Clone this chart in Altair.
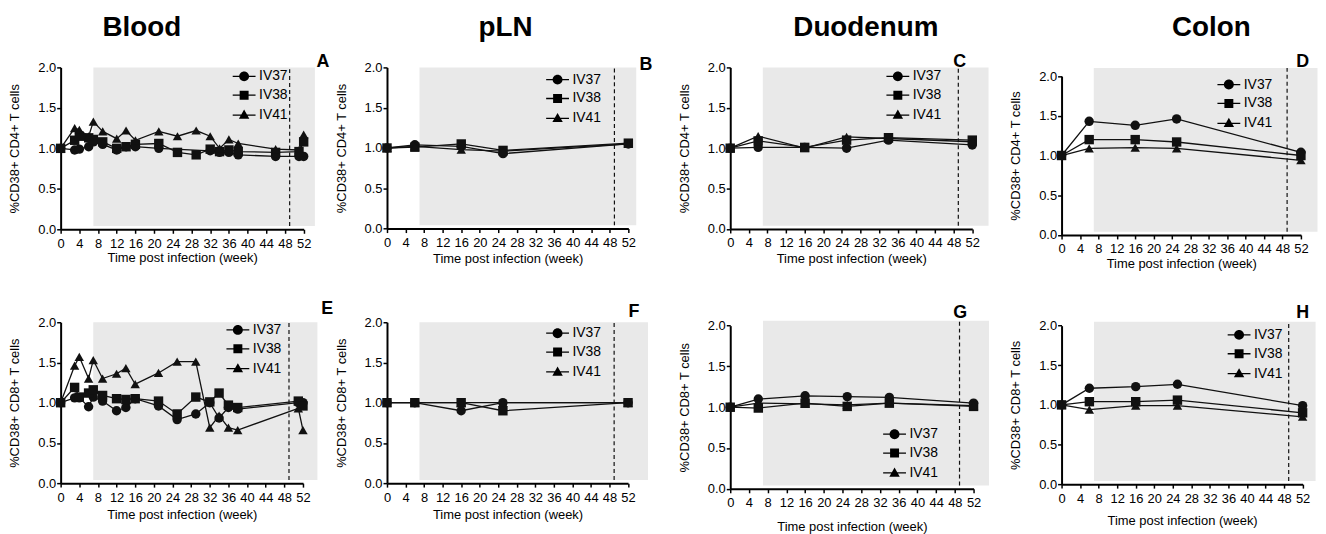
import altair as alt
import pandas as pd

animals = ["IV37", "IV38", "IV41"]

# ---------------- data ----------------
# A: Blood, CD4+
blood_cd4_weeks = [0, 3, 4, 6, 7, 9, 12, 14, 16, 21, 25, 29, 32, 34, 36, 38, 46, 51, 52]
blood_cd4_iv37 = [1.00, 0.98, 0.99, 1.02, 1.08, 1.05, 0.98, 1.02, 1.02, 1.00, None, None, 0.97, 0.95, 0.95, 0.92, 0.90, 0.90, 0.90]
blood_cd4_iv38 = [1.00, 1.10, 1.15, 1.13, 1.11, 1.08, 1.00, 1.02, 1.05, 1.06, 0.95, 0.92, 0.99, 0.96, 0.98, 0.96, 0.95, 0.96, 1.08]
blood_cd4_iv41 = [1.00, 1.25, 1.23, 1.15, 1.33, 1.21, 1.12, 1.22, 1.10, 1.21, 1.15, 1.22, 1.15, 1.00, 1.11, 1.06, 0.99, 0.98, 1.17]

# B: pLN, CD4+
pln_cd4_weeks = [0, 6, 16, 25, 52]
pln_cd4_iv37 = [1.00, 1.04, 1.02, 0.93, 1.05]
pln_cd4_iv38 = [1.00, 1.01, 1.05, 0.97, 1.06]
pln_cd4_iv41 = [1.00, 1.02, 0.98, 0.96, 1.05]

# C: Duodenum, CD4+
duo_cd4_weeks = [0, 6, 16, 25, 34, 52]
duo_cd4_iv37 = [1.00, 1.01, 1.01, 1.00, 1.10, 1.04]
duo_cd4_iv38 = [1.00, 1.09, 1.01, 1.10, 1.13, 1.10]
duo_cd4_iv41 = [1.00, 1.15, 1.00, 1.14, 1.12, 1.08]

# D: Colon, CD4+
col_cd4_weeks = [0, 6, 16, 25, 52]
col_cd4_iv37 = [1.00, 1.43, 1.38, 1.46, 1.04]
col_cd4_iv38 = [1.00, 1.20, 1.20, 1.17, 1.00]
col_cd4_iv41 = [1.00, 1.09, 1.10, 1.09, 0.94]

# E: Blood, CD8+
blood_cd8_weeks = [0, 3, 4, 6, 7, 9, 12, 14, 16, 21, 25, 29, 32, 34, 36, 38, 51, 52]
blood_cd8_iv37 = [1.00, 1.06, 1.06, 0.95, 1.07, 1.02, 0.90, 0.94, 1.05, 0.96, 0.79, 0.86, 1.00, 0.81, 0.94, 0.92, 1.00, 1.00]
blood_cd8_iv38 = [1.00, 1.19, 1.07, 1.12, 1.16, 1.09, 1.05, 1.04, 1.05, 1.02, 0.86, 1.07, 1.01, 1.12, 0.97, 0.94, 1.02, 0.96]
blood_cd8_iv41 = [1.00, 1.46, 1.57, 1.30, 1.53, 1.30, 1.36, 1.43, 1.23, 1.37, 1.51, 1.51, 0.69, 0.84, 0.69, 0.66, 0.93, 0.66]

# F: pLN, CD8+
pln_cd8_weeks = [0, 6, 16, 25, 52]
pln_cd8_iv37 = [1.00, 1.00, 0.90, 1.00, 1.00]
pln_cd8_iv38 = [1.00, 1.00, 1.00, 0.90, 1.00]
pln_cd8_iv41 = [1.00, 1.00, 1.00, 1.00, 1.00]

# G: Duodenum, CD8+
duo_cd8_weeks = [0, 6, 16, 25, 34, 52]
duo_cd8_iv37 = [1.00, 1.10, 1.14, 1.13, 1.12, 1.05]
duo_cd8_iv38 = [1.00, 0.99, 1.05, 1.01, 1.05, 1.01]
duo_cd8_iv41 = [1.00, 1.05, 1.04, 1.03, 1.05, 1.02]

# H: Colon, CD8+
col_cd8_weeks = [0, 6, 16, 25, 52]
col_cd8_iv37 = [1.00, 1.21, 1.23, 1.26, 0.99]
col_cd8_iv38 = [1.00, 1.04, 1.04, 1.06, 0.90]
col_cd8_iv41 = [1.00, 0.94, 0.99, 0.99, 0.85]

x_ticks = list(range(0, 53, 4))
y_ticks = [0.0, 0.5, 1.0, 1.5, 2.0]
shade_start = 7
dash_week = 49
shade_bottom = 0.04

series = {
    "A": (blood_cd4_weeks, blood_cd4_iv37, blood_cd4_iv38, blood_cd4_iv41),
    "B": (pln_cd4_weeks, pln_cd4_iv37, pln_cd4_iv38, pln_cd4_iv41),
    "C": (duo_cd4_weeks, duo_cd4_iv37, duo_cd4_iv38, duo_cd4_iv41),
    "D": (col_cd4_weeks, col_cd4_iv37, col_cd4_iv38, col_cd4_iv41),
    "E": (blood_cd8_weeks, blood_cd8_iv37, blood_cd8_iv38, blood_cd8_iv41),
    "F": (pln_cd8_weeks, pln_cd8_iv37, pln_cd8_iv38, pln_cd8_iv41),
    "G": (duo_cd8_weeks, duo_cd8_iv37, duo_cd8_iv38, duo_cd8_iv41),
    "H": (col_cd8_weeks, col_cd8_iv37, col_cd8_iv38, col_cd8_iv41),
}

# ---------------- layout (page pixel measurements) ----------------
FONT = "Liberation Sans"
col_x = [61.0, 389.3, 734.0, 1067.3]
row_y = [66.0, 322.3]
col_gap = 83.6
col_w = [244.7, 261.1, 249.7, 243.0]
row_gap = 87.6

layout = {
    "A": dict(c=0, r=0, pw=244.7, top=66.0, bot=229.0, let=(318, 65), head=("Blood", 102.7, 34), leg=(244.5, 75), xtp=1, send=54.4, stop=2.0),
    "B": dict(c=1, r=0, pw=243.0, top=66.0, bot=228.3, let=(643, 68), head=("pLN", 481, 34), leg=(559.8, 78.3), xtp=3, send=53.7, stop=2.0),
    "C": dict(c=2, r=0, pw=243.7, top=66.0, bot=228.7, let=(958, 65), head=("Duodenum", 797, 34), leg=(901.5, 75), xtp=3, send=55.5, stop=2.0),
    "D": dict(c=3, r=0, pw=241.0, top=74.7, bot=234.7, let=(1303, 65), head=("Colon", 1178, 34), leg=(1234.5, 83.3), xtp=1.4, send=55.6, stop=2.1),
    "E": dict(c=0, r=1, pw=244.0, top=322.3, bot=484.3, let=(323, 313.3), head=None, leg=(238.2, 330), xtp=4.7, send=55.1, stop=2.0),
    "F": dict(c=1, r=1, pw=242.7, top=322.3, bot=484.3, let=(632, 316.7), head=None, leg=(559.8, 333.3), xtp=4.7, send=56.3, stop=2.0),
    "G": dict(c=2, r=1, pw=245.0, top=325.7, bot=490.0, let=(958, 317.3), head=None, leg=(898.2, 435), xtp=11, send=55.3, stop=2.06),
    "H": dict(c=3, r=1, pw=242.7, top=325.7, bot=485.3, let=(1303, 317.3), head=None, leg=(1244.8, 335), xtp=9.7, send=54.8, stop=2.05),
}

# legend glyphs: a short line with the marker on it (unit = 5 px at size 100)
LINE = "M-2.3,-0.13H2.3V0.13H-2.3Z"
legend_paths = [
    LINE + "M1,0A1,1,0,1,1,-1,0A1,1,0,1,1,1,0Z",
    LINE + "M-0.9,-0.9H0.9V0.9H-0.9Z",
    LINE + "M0,-1.1L1.05,0.75H-1.05Z",
]


def make_panel(key):
    L = layout[key]
    weeks, a, b, c = series[key]
    rows = []
    for name, vals in zip(animals, (a, b, c)):
        for w, v in zip(weeks, vals):
            if v is not None:
                rows.append({"animal": name, "week": w, "value": v})
    df = pd.DataFrame(rows)
    shade = pd.DataFrame([{"x0": shade_start, "x1": L["send"], "y0": shade_bottom, "y1": L["stop"], "xd": dash_week}])

    gx, gy = col_x[L["c"]], row_y[L["r"]]
    gw = col_w[L["c"]]
    gh = L["bot"] - gy
    xs = alt.Scale(domain=[0, 52], range=[0, L["pw"]], nice=False, zero=False)
    ys = alt.Scale(domain=[0, 2], range=[gh, L["top"] - gy], nice=False, zero=False)

    if L["head"]:
        htxt, hx, hy = L["head"]
        top_axis = alt.Axis(orient="top", title=htxt, titleX=hx - gx, titleY=hy - gy, titleAngle=0,
                            titleAlign="left", titleBaseline="alphabetic", titleFontSize=28,
                            titleFontWeight="bold", domain=False, ticks=False, labels=False, grid=False)
    else:
        top_axis = None
    lx, ly = L["let"]
    right_axis = alt.Axis(orient="right", title=key, titleX=lx - (gx + gw), titleY=ly - gy, titleAngle=0,
                          titleAlign="left", titleBaseline="alphabetic", titleFontSize=18,
                          titleFontWeight="bold", domain=False, ticks=False, labels=False, grid=False)

    rect = alt.Chart(shade).mark_rect(fill="#e9e9e9").encode(
        x=alt.X("x0:Q", scale=xs, axis=top_axis), x2="x1:Q",
        y=alt.Y("y0:Q", scale=ys, axis=right_axis), y2="y1:Q")
    rule = alt.Chart(shade).mark_rule(color="#111", strokeDash=[4, 3], strokeWidth=1.2).encode(
        x=alt.X("xd:Q", scale=xs, axis=None),
        y=alt.Y("y0:Q", scale=ys, axis=None), y2="y1:Q")
    lines = alt.Chart(df).mark_line(color="#111", strokeWidth=1.3).encode(
        x=alt.X("week:Q", scale=xs, axis=None),
        y=alt.Y("value:Q", scale=ys, axis=None),
        detail="animal:N", order="week:Q")
    ytitle = "%CD38+ CD4+ T cells" if L["r"] == 0 else "%CD38+ CD8+ T cells"
    xaxis = alt.Axis(values=x_ticks, title="Time post infection (week)", titlePadding=L["xtp"],
                     tickSize=4, labelPadding=4, grid=False, labelOverlap=False, labelFlush=False)
    yaxis = alt.Axis(values=y_ticks, format=".1f", title=ytitle, titlePadding=16,
                     tickSize=4, labelPadding=1, grid=False, labelOverlap=False, labelFlush=False)
    pts = alt.Chart(df).mark_point(filled=True, color="#111", opacity=1, size=90).encode(
        x=alt.X("week:Q", scale=xs, axis=xaxis),
        y=alt.Y("value:Q", scale=ys, axis=yaxis),
        shape=alt.Shape("animal:N", scale=alt.Scale(domain=animals, range=["circle", "square", "triangle-up"]), legend=None))
    cx, cy = L["leg"]
    leg = alt.Chart(df).transform_filter("false").mark_point(
        filled=True, fill="black", stroke="black", strokeWidth=1, opacity=1, size=100).encode(
        x=alt.X("week:Q", scale=xs, axis=None),
        y=alt.Y("value:Q", scale=ys, axis=None),
        shape=alt.Shape("animal:N", scale=alt.Scale(domain=animals, range=legend_paths),
                        legend=alt.Legend(title=None, orient="none", legendX=cx - gx - 5.75, legendY=cy - gy - 7,
                                          symbolSize=100, symbolStrokeWidth=1, symbolFillColor="black",
                                          symbolStrokeColor="black", labelOffset=8, rowPadding=5,
                                          padding=0, labelFontSize=14, labelFont=FONT, labelColor="black")))
    return (alt.layer(rect, rule, lines, pts, leg)
            .resolve_scale(shape="independent")
            .resolve_axis(x="independent", y="independent")
            .properties(width=gw, height=gh))


chart = alt.concat(*[make_panel(k) for k in "ABCDEFGH"], columns=4,
                   spacing={"row": row_gap, "column": col_gap}, bounds="flush").properties(
    padding={"left": 0, "top": 4, "right": 0, "bottom": 0}
).configure_view(stroke=None).configure_axis(
    domainColor="black", domainWidth=2, tickColor="black", tickWidth=1.5,
    labelFont=FONT, labelFontSize=13, labelColor="black",
    titleFont=FONT, titleFontSize=13, titleFontWeight="normal", titleColor="black"
).configure_legend(labelFont=FONT, labelFontSize=14, labelColor="black")

chart.save("out.html", embed_options={"renderer": "svg", "actions": False})
